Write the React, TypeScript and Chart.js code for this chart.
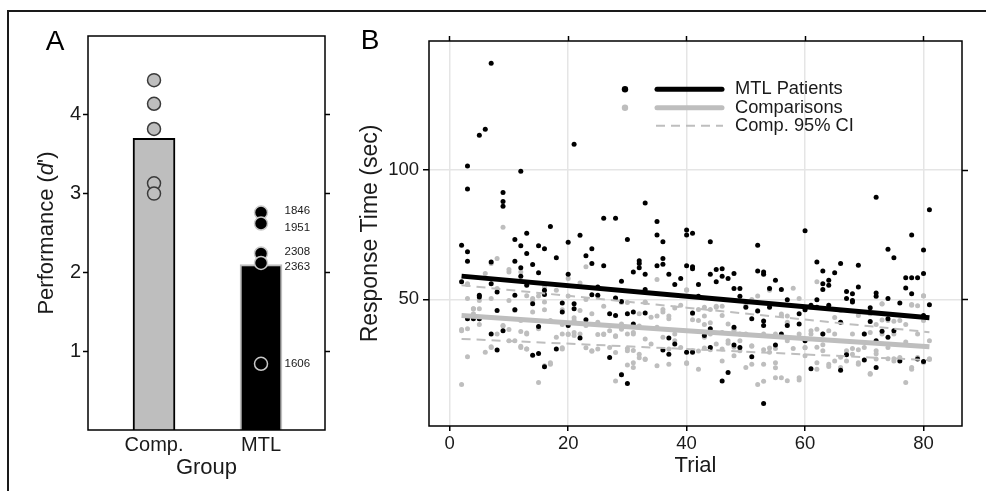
import React, { useEffect, useRef } from 'react';
import { Chart, registerables } from 'chart.js';
Chart.register(...registerables);

const FONT = "'Liberation Sans', Arial, Helvetica, sans-serif";
const TXT = '#1a1a1a';
const GRAY = '#bebebe';

// ---------- Panel A data ----------
const groupLabels = ['Comp.', 'MTL'];
const groupMeans = [3.7, 2.1];
const compScores = [4.44, 4.14, 3.82, 3.13, 3.0];
const mtlScores = [2.76, 2.62, 2.24, 2.12, 0.84];
const mtlIds = ['1846', '1951', '2308', '2363', '1606'];
const mtlIdLabelY = [2.78, 2.56, 2.26, 2.07, 0.84];
const perfTicks = [1, 2, 3, 4];

// ---------- Panel B data ----------
const trialTicks = [0, 20, 40, 60, 80];
const rtTicks = [50, 100];
const mtlPoints: [number, number][] = [
  [2,71.0],[2,56.8],[3,101.6],[3,92.7],[3,68.4],[3,64.8],[3,42.5],[4,42.5],[5,113.5],[5,51.6],[5,50.9],[5,42.5],[6,115.8],[7,141.4],[7,64.5],[7,56.1],[7,36.6],[8,45.7],[8,52.9],[8,30.4],[9,91.4],[9,87.9],[9,86.0],[9,37.9],[11,73.2],[11,64.8],[11,51.6],[11,46.0],[12,99.6],[12,70.8],[12,62.2],[12,59.0],[13,75.6],[13,67.8],[13,55.5],[14,63.5],[14,48.3],[14,28.4],[15,70.8],[15,60.3],[15,39.5],[15,29.1],[16,69.6],[16,53.5],[16,51.9],[16,23.9],[17,78.2],[18,66.1],[18,30.8],[19,48.6],[19,45.1],[20,72.1],[20,59.7],[20,39.9],[21,110.0],[21,48.3],[21,46.4],[22,74.8],[22,35.1],[23,66.9],[23,42.1],[24,69.6],[24,63.9],[24,51.8],[25,54.8],[25,51.6],[26,81.4],[26,63.0],[27,27.5],[27,44.4],[28,81.4],[28,50.5],[28,43.8],[29,57.0],[29,49.2],[29,20.8],[30,73.2],[30,44.4],[30,17.4],[31,60.6],[31,45.1],[31,40.5],[32,65.0],[32,63.9],[32,62.2],[33,87.3],[33,59.7],[33,53.8],[33,44.7],[35,80.1],[35,74.9],[35,63.0],[36,72.3],[36,65.8],[36,63.6],[36,30.4],[37,59.7],[37,35.1],[37,28.8],[38,55.8],[38,32.7],[39,58.1],[40,76.9],[40,74.9],[40,63.0],[40,29.5],[41,75.6],[41,62.6],[41,61.9],[41,44.7],[41,29.5],[42,55.8],[42,51.2],[43,36.0],[44,72.3],[44,59.7],[44,38.6],[44,31.4],[45,61.6],[45,56.8],[46,61.9],[46,59.0],[46,18.4],[47,58.1],[47,21.7],[48,60.0],[48,54.2],[48,39.2],[48,32.3],[49,54.2],[49,51.2],[49,31.4],[50,47.0],[51,42.5],[51,27.8],[52,71.0],[52,61.0],[52,45.5],[53,60.6],[53,59.7],[53,41.6],[53,39.9],[53,9.7],[54,54.2],[54,47.0],[55,57.4],[55,32.3],[56,53.8],[56,36.6],[57,49.9],[57,39.9],[59,44.4],[59,40.5],[60,76.6],[60,46.0],[60,34.0],[61,47.7],[61,23.2],[62,64.5],[62,49.9],[62,47.0],[63,61.0],[63,56.1],[63,53.8],[63,36.6],[64,57.4],[64,55.5],[64,47.7],[65,60.3],[66,63.9],[66,41.2],[66,22.6],[67,53.1],[67,50.3],[67,28.6],[68,52.2],[68,49.6],[68,49.0],[69,63.2],[69,54.8],[70,26.5],[70,36.6],[71,46.8],[71,41.4],[72,89.5],[72,52.5],[72,51.2],[72,34.0],[72,23.6],[73,37.7],[74,69.4],[74,50.3],[74,42.5],[74,35.3],[75,66.1],[75,37.9],[76,48.6],[76,26.2],[77,58.4],[77,54.4],[78,74.9],[78,58.4],[78,52.2],[79,58.4],[79,26.9],[80,69.1],[80,60.0],[80,43.8],[80,26.0],[81,84.7],[81,47.9]
];
const compPoints: [number, number][] = [
  [2,37.9],[2,17.1],[3,56.1],[3,50.3],[3,38.6],[3,27.8],[4,46.4],[4,44.4],[5,49.6],[5,42.5],[6,60.0],[6,29.5],[7,63.9],[7,31.4],[8,65.8],[8,54.2],[8,36.6],[9,77.9],[9,39.9],[10,60.6],[10,49.6],[10,34.0],[11,45.7],[11,34.0],[12,60.6],[12,41.8],[12,31.4],[13,51.4],[13,36.6],[13,30.8],[14,49.6],[14,45.1],[15,38.6],[15,17.8],[16,54.8],[16,49.0],[16,24.3],[17,24.9],[17,41.8],[18,53.5],[18,35.3],[19,36.6],[19,30.8],[20,58.1],[20,36.6],[21,41.8],[21,36.0],[22,45.7],[22,36.6],[23,62.6],[23,39.9],[24,44.4],[24,30.1],[25,51.4],[25,41.2],[25,30.8],[26,47.3],[26,36.6],[27,37.9],[27,31.4],[28,50.3],[28,18.4],[29,40.5],[29,21.0],[30,36.6],[30,30.1],[31,23.6],[31,36.6],[32,44.4],[32,28.8],[33,49.0],[33,34.7],[33,26.9],[34,43.1],[34,32.7],[35,39.2],[35,24.3],[36,45.1],[36,35.3],[37,42.5],[37,30.8],[38,36.6],[38,34.0],[39,47.7],[39,31.4],[40,53.5],[40,25.2],[41,44.4],[41,30.1],[42,23.0],[42,41.8],[43,47.0],[43,35.3],[44,36.6],[44,31.4],[45,47.0],[45,32.7],[46,43.8],[46,26.2],[47,40.5],[47,34.0],[48,37.9],[48,28.2],[49,36.6],[49,30.1],[50,36.6],[50,23.6],[51,32.1],[51,24.9],[52,45.7],[52,17.1],[53,24.9],[53,36.6],[54,53.5],[54,29.5],[55,19.7],[55,36.6],[56,43.8],[56,19.7],[57,34.0],[57,41.2],[59,19.7],[59,36.6],[60,28.2],[60,31.4],[61,36.6],[61,47.0],[62,56.8],[62,23.0],[63,36.6],[63,30.1],[64,24.9],[64,37.9],[65,36.6],[65,26.2],[66,23.6],[66,45.7],[67,30.1],[67,26.2],[68,36.6],[68,28.8],[69,24.9],[69,43.8],[70,36.6],[70,31.4],[71,21.0],[71,44.4],[72,30.1],[72,26.9],[73,48.3],[73,36.6],[74,31.4],[74,41.8],[75,36.6],[75,26.2],[76,41.8],[76,27.5],[77,17.8],[77,33.5],[78,47.7],[78,23.6],[79,36.6],[79,27.5],[80,51.4],[80,41.8],[80,25.6],[81,34.0],[81,26.7],
  [10,61.6],[3,55.8],[4,46.4],[5,46.4],[2,38.3],[5,40.3],[7,50.3],[7,31.7],[9,39.7],[11,46.1],[10,38.3],[12,37.6],[13,37.0],[12,31.9],[13,30.8],[14,50.3],[15,51.3],[16,46.0],[20,51.3],[22,56.3],[23,50.0],[19,46.0],[21,42.9],[19,40.3],[20,36.4],[21,37.2],[19,31.3],[23,31.3],[24,29.9],[25,36.4],[26,36.4],[28,35.6],[17,25.5],[28,29.4],
  [29,48.8],[30,48.8],[33,48.8],[35,57.7],[28,35.9],[29,38.4],[31,37.2],[32,39.7],[35,43.6],[36,46.1],[37,43.6],[38,46.7],[40,53.7],[41,42.1],[30,31.0],[31,30.2],[32,27.4],[33,26.7],[31,25.5],[30,24.6],[37,24.9],[40,25.5],
  [42,46.1],[43,43.6],[44,46.1],[45,47.3],[46,47.3],[43,40.3],[44,41.0],[46,37.2],[48,38.4],[50,47.6],[51,50.0],[52,51.3],[54,54.3],[42,30.0],[43,31.2],[44,30.5],[46,30.8],[47,33.0],[48,31.5],[49,34.0],[51,31.9],[53,30.5],[54,31.2],[55,25.5],[53,18.3],
  [58,54.3],[59,50.3],[56,44.3],[57,43.6],[60,45.9],[61,37.9],[62,38.4],[65,43.0],[57,40.3],[55,31.0],[58,31.0],[60,31.3],[62,31.5],[63,32.4],[66,27.6],[67,29.0],[68,31.0],[55,23.5],[57,18.5],[59,18.8],[62,25.5],[64,24.0],
  [73,48.2],[75,41.5],[77,40.3],[79,47.5],[80,51.3],[78,48.0],[71,37.2],[72,40.3],[73,42.0],[69,30.5],[69,25.5],[71,21.3],[72,29.0],[74,27.0],[75,27.0],[78,23.0],[81,27.0]
];
const fitTrials = [2, 40, 81];
const mtlFit = [59.0, 51.2, 42.9];
const compFit = [43.8, 37.9, 31.7];
const ciUpper = [55.5, 46.8, 37.3];
const ciLower = [34.7, 30.8, 26.5];
const legendLabels = ['MTL Patients', 'Comparisons', 'Comp. 95% CI'];

const setTicks = (vals: number[]) => (s: any) => { s.ticks = vals.map((v) => ({ value: v })); };

const framePlugin = {
  id: 'frame',
  afterDraw(chart: any) {
    const { ctx, chartArea: a } = chart;
    ctx.save();
    ctx.strokeStyle = '#000';
    ctx.lineWidth = 1.5;
    ctx.strokeRect(a.left, a.top, a.right - a.left, a.bottom - a.top);
    ctx.restore();
  },
};

const panelLabel = (text: string, x: number, y: number) => ({
  id: 'panel' + text,
  afterDraw(chart: any) {
    const { ctx } = chart;
    ctx.save();
    ctx.fillStyle = '#000';
    ctx.font = `28px ${FONT}`;
    ctx.textAlign = 'center';
    ctx.textBaseline = 'middle';
    ctx.fillText(text, x, y);
    ctx.restore();
  },
});

function PanelA() {
  const ref = useRef<HTMLCanvasElement>(null);
  useEffect(() => {
    const idLabels = {
      id: 'idLabels',
      afterDatasetsDraw(chart: any) {
        const { ctx, scales } = chart;
        ctx.save();
        ctx.fillStyle = TXT;
        ctx.font = `11.5px ${FONT}`;
        ctx.textAlign = 'left';
        ctx.textBaseline = 'middle';
        mtlIds.forEach((id, i) => {
          ctx.fillText(id, scales.x.getPixelForValue(2.22), scales.y.getPixelForValue(mtlIdLabelY[i]));
        });
        ctx.restore();
      },
    };
    const yTitle = {
      id: 'yTitleA',
      afterDraw(chart: any) {
        const { ctx, chartArea } = chart;
        const parts = [
          { t: 'Performance (', f: `22px ${FONT}` },
          { t: 'd', f: `italic 22px ${FONT}` },
          { t: "')", f: `22px ${FONT}` },
        ];
        ctx.save();
        let total = 0;
        parts.forEach((p) => { ctx.font = p.f; total += ctx.measureText(p.t).width; });
        ctx.translate(47, (chartArea.top + chartArea.bottom) / 2);
        ctx.rotate(-Math.PI / 2);
        ctx.fillStyle = TXT;
        ctx.textBaseline = 'middle';
        ctx.textAlign = 'left';
        let x = -total / 2;
        parts.forEach((p) => { ctx.font = p.f; ctx.fillText(p.t, x, 0); x += ctx.measureText(p.t).width; });
        ctx.restore();
      },
    };
    const chart = new Chart(ref.current!, {
      type: 'bar',
      data: {
        datasets: [
          {
            type: 'scatter',
            data: mtlScores.map((y) => ({ x: 2, y })),
            pointRadius: 6.5,
            pointBackgroundColor: '#000',
            pointBorderColor: '#c8c8c8',
            pointBorderWidth: 1.5,
          } as any,
          {
            type: 'scatter',
            data: compScores.map((y) => ({ x: 1, y })),
            pointRadius: 6.5,
            pointBackgroundColor: GRAY,
            pointBorderColor: '#3a3a3a',
            pointBorderWidth: 1.5,
          } as any,
          {
            type: 'bar',
            data: groupMeans.map((y, i) => ({ x: i + 1, y })),
            backgroundColor: [GRAY, '#000'],
            borderColor: ['#000', GRAY],
            borderWidth: 2,
            barThickness: 42,
          } as any,
        ],
      },
      options: {
        responsive: false,
        animation: false,
        events: [],
        layout: { padding: { top: 36, left: 0, right: 0, bottom: 0 } },
        plugins: { legend: { display: false }, tooltip: { enabled: false } },
        scales: {
          x: {
            type: 'linear',
            offset: false,
            min: 0.383,
            max: 2.598,
            position: 'bottom',
            grid: { display: false, drawTicks: false },
            border: { display: false },
            afterBuildTicks: setTicks([1, 2]),
            ticks: { padding: 3, color: TXT, font: { size: 20, family: FONT }, callback: (v: any) => groupLabels[Math.round(v) - 1] },
            title: { display: true, text: 'Group', color: TXT, font: { size: 22, family: FONT }, padding: { top: 0, bottom: 10 } },
            afterFit: (s: any) => { s.height = 61; },
          },
          y: {
            min: 0,
            max: 5,
            position: 'left',
            grid: { drawOnChartArea: false, drawTicks: true, tickLength: 5, tickColor: '#000', tickWidth: 1.5 },
            border: { display: false },
            afterBuildTicks: setTicks(perfTicks),
            ticks: { padding: 2, color: TXT, font: { size: 20, family: FONT } },
            afterFit: (s: any) => { s.width = 88; },
          },
          y2: {
            min: 0,
            max: 5,
            position: 'right',
            grid: { drawOnChartArea: false, drawTicks: true, tickLength: 5, tickColor: '#000', tickWidth: 1.5 },
            border: { display: false },
            afterBuildTicks: setTicks(perfTicks),
            ticks: { display: false },
            afterFit: (s: any) => { s.width = 15; },
          },
        },
      } as any,
      plugins: [framePlugin, idLabels, yTitle, panelLabel('A', 55, 42)],
    });
    return () => chart.destroy();
  }, []);
  return <canvas ref={ref} width={340} height={491} style={{ position: 'absolute', left: 0, top: 0 }} />;
}

function PanelB() {
  const ref = useRef<HTMLCanvasElement>(null);
  useEffect(() => {
    const legend = {
      id: 'legendB',
      afterDraw(chart: any) {
        const { ctx } = chart;
        const rows = [89.3, 107.7, 125.7];
        ctx.save();
        ctx.fillStyle = '#000';
        ctx.beginPath(); ctx.arc(285, rows[0], 3.2, 0, Math.PI * 2); ctx.fill();
        ctx.fillStyle = GRAY;
        ctx.beginPath(); ctx.arc(285, rows[1], 3.2, 0, Math.PI * 2); ctx.fill();
        ctx.lineCap = 'round';
        ctx.lineWidth = 5;
        ctx.strokeStyle = '#000';
        ctx.beginPath(); ctx.moveTo(317, rows[0]); ctx.lineTo(382, rows[0]); ctx.stroke();
        ctx.strokeStyle = GRAY;
        ctx.beginPath(); ctx.moveTo(317, rows[1]); ctx.lineTo(382, rows[1]); ctx.stroke();
        ctx.lineCap = 'butt';
        ctx.lineWidth = 2;
        ctx.setLineDash([9, 6]);
        ctx.beginPath(); ctx.moveTo(316, rows[2]); ctx.lineTo(383, rows[2]); ctx.stroke();
        ctx.setLineDash([]);
        ctx.fillStyle = TXT;
        ctx.font = `18.3px ${FONT}`;
        ctx.textAlign = 'left';
        ctx.textBaseline = 'middle';
        legendLabels.forEach((l, i) => ctx.fillText(l, 395, rows[i]));
        ctx.restore();
      },
    };
    const lineDs = (vals: number[], color: string, width: number, dash: number[] = []) => ({
      type: 'line',
      data: fitTrials.map((x, i) => ({ x, y: vals[i] })),
      borderColor: color,
      borderWidth: width,
      borderDash: dash,
      pointRadius: 0,
      fill: false,
      tension: 0,
    });
    const chart = new Chart(ref.current!, {
      type: 'scatter',
      data: {
        datasets: [
          lineDs(mtlFit, '#000', 5) as any,
          lineDs(compFit, GRAY, 5) as any,
          lineDs(ciUpper, GRAY, 2, [9, 6]) as any,
          lineDs(ciLower, GRAY, 2, [9, 6]) as any,
          { data: mtlPoints.map(([x, y]) => ({ x, y })), pointRadius: 2.5, pointBorderWidth: 0, pointBackgroundColor: '#000' } as any,
          { data: compPoints.map(([x, y]) => ({ x, y })), pointRadius: 2.5, pointBorderWidth: 0, pointBackgroundColor: GRAY } as any,
        ],
      },
      options: {
        responsive: false,
        animation: false,
        events: [],
        layout: { padding: 0 },
        plugins: { legend: { display: false }, tooltip: { enabled: false } },
        scales: {
          x: {
            type: 'linear',
            min: -3.5,
            max: 86.5,
            position: 'bottom',
            grid: { color: '#e5e5e5', lineWidth: 1.5, drawTicks: true, tickLength: 5, tickColor: '#000', tickWidth: 1.5 },
            border: { display: false },
            afterBuildTicks: setTicks(trialTicks),
            ticks: { padding: 2, color: TXT, font: { size: 18.5, family: FONT } },
            title: { display: true, text: 'Trial', color: TXT, font: { size: 22, family: FONT }, padding: { top: 0, bottom: 12 } },
            afterFit: (s: any) => { s.height = 65; },
          },
          x2: {
            type: 'linear',
            min: -3.5,
            max: 86.5,
            position: 'top',
            grid: { drawOnChartArea: false, drawTicks: true, tickLength: 5, tickColor: '#000', tickWidth: 1.5 },
            border: { display: false },
            afterBuildTicks: setTicks(trialTicks),
            ticks: { display: false },
            afterFit: (s: any) => { s.height = 41; },
          },
          y: {
            type: 'linear',
            min: 1,
            max: 150,
            position: 'left',
            grid: { color: '#e5e5e5', lineWidth: 1.5, drawTicks: true, tickLength: 6, tickColor: '#000', tickWidth: 1.5 },
            border: { display: false },
            afterBuildTicks: setTicks(rtTicks),
            ticks: { padding: 4, color: TXT, font: { size: 18.5, family: FONT } },
            title: { display: true, text: 'Response Time (sec)', color: TXT, font: { size: 23, family: FONT }, padding: { top: 17, bottom: 0 } },
            afterFit: (s: any) => { s.width = 89; },
          },
          y2: {
            type: 'linear',
            min: 1,
            max: 150,
            position: 'right',
            grid: { drawOnChartArea: false, drawTicks: true, tickLength: 6, tickColor: '#000', tickWidth: 1.5 },
            border: { display: false },
            afterBuildTicks: setTicks(rtTicks),
            ticks: { display: false },
            afterFit: (s: any) => { s.width = 24; },
          },
        },
      } as any,
      plugins: [framePlugin, legend, panelLabel('B', 30, 41)],
    });
    return () => chart.destroy();
  }, []);
  return <canvas ref={ref} width={646} height={491} style={{ position: 'absolute', left: 340, top: 0 }} />;
}

export default function App() {
  return (
    <div style={{ position: 'absolute', left: 0, top: 0, width: 986, height: 491, overflow: 'hidden', background: '#fff' }}>
      <div style={{ position: 'absolute', left: 7, top: 10, width: 1200, height: 1200, borderTop: '2px solid #1a1a1a', borderLeft: '2px solid #1a1a1a' }} />
      <PanelA />
      <PanelB />
    </div>
  );
}
